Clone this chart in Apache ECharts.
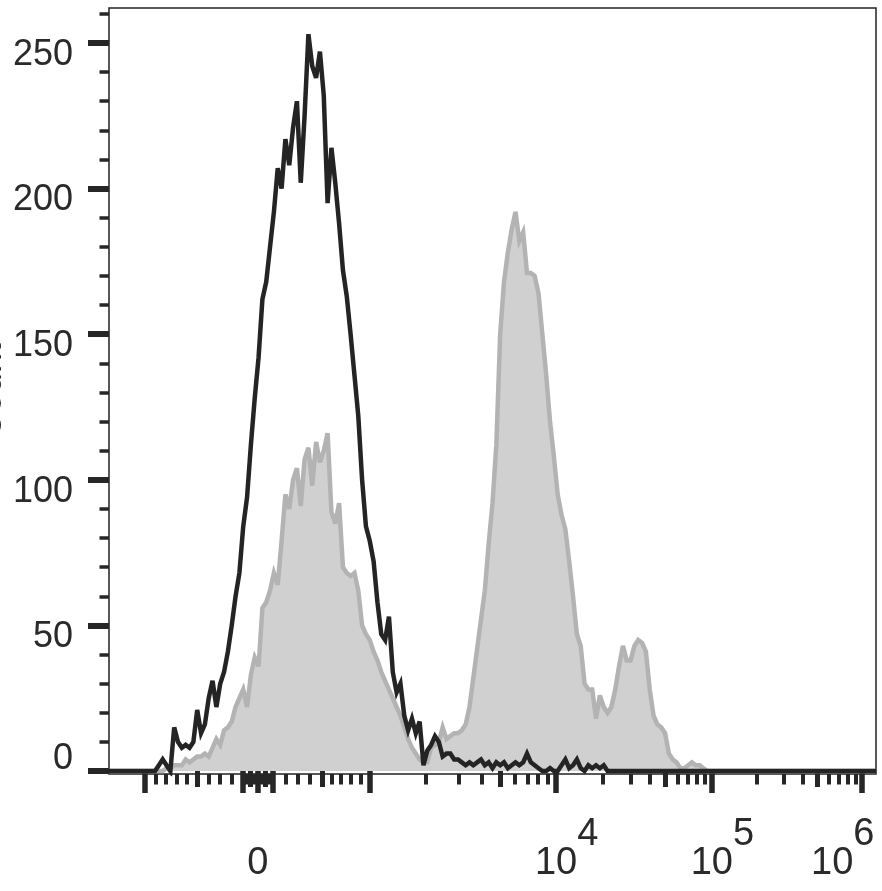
<!DOCTYPE html>
<html><head><meta charset="utf-8">
<script src="https://cdn.jsdelivr.net/npm/echarts@6/dist/echarts.min.js"></script>
<style>html,body{margin:0;padding:0;background:#fff}#c{width:882px;height:891px}</style>
</head><body><div id="c"></div>
<script>
// Histogram bins on a biexponential display scale of 0..1000 display channels
const channelStep = 5;

// Control (black line) counts per bin
const ctrlCounts = [
  0,0,0,0,0,0,0,0,0,0,0,0,0,
  2,4,2,0,15,10,8,9,
  8,10,21,13,16,25,31,22,30,34,
  41,50,60,68,84,94,112,128,142,162,
  168,180,192,207,200,217,208,221,230,202,
  225,253,242,238,247,232,195,214,202,188,
  172,163,150,136,122,100,84,79,72,58,
  47,45,53,34,27,30,19,14,18,13,
  17,2,7,9,12,10,5,6,6,4,
  4,3,2,3,2,3,4,2,3,1,
  3,2,3,1,2,3,2,3,6,3,
  2,1,0,0,1,0,0,2,4,1,
  2,4,1,0,2,1,2,1,2,0,
  0,0,0,0,0,0,0,0,0,0,0,0,0,0,0,0,0,0,0,0,
  0,0,0,0,0,0,0,0,0,0,0,0,0,0,0,0,0,0,0,0,
  0,0,0,0,0,0,0,0,0,0,0,0,0,0,0,0,0,0,0,0,
  0,0,0,0,0,0,0,0,0,0
];

// Stained sample (grey filled) counts per bin
const sampleCounts = [
  0,0,0,0,0,0,0,0,0,0,0,0,0,0,0,
  1,1,2,2,2,4,
  3,4,5,5,6,5,8,11,9,14,
  15,17,22,25,28,22,33,39,36,56,
  58,62,68,64,79,95,90,100,104,91,
  107,111,98,113,106,110,116,89,85,92,
  70,68,67,68,62,50,47,45,41,38,
  34,31,28,25,22,19,15,11,8,6,
  4,3,3,8,9,10,15,11,12,13,
  13,14,16,22,32,42,52,62,78,92,
  112,150,168,178,186,192,182,185,171,171,
  170,164,150,136,120,108,95,88,83,72,
  60,47,43,30,28,28,18,26,22,20,
  22,28,36,43,38,38,43,45,44,41,
  28,19,16,15,13,6,4,3,1,1,
  2,3,2,2,1,0,
  0,0,0,0,0,0,0,0,0,0,0,0,0,0,0,0,0,0,0,0,0,0,
  0,0,0,0,0,0,0,0,0,0,0,0,0,0,0,0,0,0,0,0,0,0
];

// Biexponential scale definition: fluorescence value -> display channel
const scaleAnchors = [[-1000,47],[-500,115],[-100,175],[0,194],[100,214],[500,278],[1000,340],[1e4,583],[1e5,786],[1e6,982]];

// X tick values (fluorescence units)
const xMajorValues = [-1000,-100,0,100,1000,1e4,1e5,1e6];
const xMediumValues = [-500,-50,50,500,5e3,5e4,5e5];
const xLinearMinorValues = [-900,-800,-700,-600,-400,-300,-200,-90,-80,-70,-60,-40,-30,-20,-10,
  10,20,30,40,60,70,80,90,200,300,400,600,700,800,900];
const xMinorMultipliers = [2,3,4,6,7,8,9];
const xMinorDecades = [1e3,1e4,1e5];
const xLabelValues = [0,1e4,1e5,1e6];
const xLabelExponents = [null,4,5,6];

// Y ticks
const yLabelValues = [50,100,150,200,250];
const yZeroLabel = [0];
const yMajorValues = [0,50,100,150,200,250];
const yMinorValues = [10,20,30,40,60,70,80,90,110,120,130,140,160,170,180,190,210,220,230,240,260];

function toChannel(v){
  const a = scaleAnchors;
  for (let i=0;i<a.length-1;i++){
    const v0=a[i][0], c0=a[i][1], v1=a[i+1][0], c1=a[i+1][1];
    if (v>=v0 && v<=v1){
      const t = v0>=1000 ? Math.log10(v/v0)/Math.log10(v1/v0) : (v-v0)/(v1-v0);
      return c0+(c1-c0)*t;
    }
  }
  return null;
}

const xMinorValues = xLinearMinorValues.slice();
xMinorDecades.forEach(d=>xMinorMultipliers.forEach(m=>xMinorValues.push(m*d)));

const toCh = arr => arr.map(toChannel).filter(c=>c!==null);
const ctrlData = ctrlCounts.map((y,i)=>[i*channelStep,y]);
const sampleData = sampleCounts.map((y,i)=>[i*channelStep,y]);

const txt = '#2a2a2a';
const font = 'Liberation Sans, Arial, sans-serif';
const tickColor = '#262626';

function xLabelFmt(val){
  for (let i=0;i<xLabelValues.length;i++){
    if (Math.abs(toChannel(xLabelValues[i])-val)<0.5){
      const e = xLabelExponents[i];
      if (e===null) return '{base|0}';
      if (i===xLabelValues.length-1) return '{base|10}{sup|'+e+'}{padR|}';
      return '{padL|}{base|10}{sup|'+e+'}';
    }
  }
  return '';
}

const baseX = {type:'value', min:0, max:1000, position:'bottom',
  axisLine:{show:false}, splitLine:{show:false}};

const chart = echarts.init(document.getElementById('c'), null, {renderer:'canvas'});
chart.setOption({
  animation:false,
  backgroundColor:'#fff',
  grid:{left:109, top:8, width:767, height:766, show:true, borderColor:'#222', borderWidth:1.5,
        backgroundColor:'transparent', containLabel:false, outerBoundsMode:'none'},
  xAxis:[
    Object.assign({}, baseX, {
      axisTick:{show:true, customValues:toCh(xMajorValues), length:22, lineStyle:{color:tickColor, width:5.5}},
      axisLabel:{show:true, customValues:toCh(xLabelValues), margin:42, formatter:xLabelFmt,
        color:txt, fontFamily:font,
        rich:{
          base:{fontSize:38, lineHeight:67, verticalAlign:'bottom', color:txt, fontFamily:font},
          sup:{fontSize:38, lineHeight:67, verticalAlign:'top', color:txt, fontFamily:font},
          padL:{width:21, lineHeight:67},
          padR:{width:39, lineHeight:67}
        }}
    }),
    Object.assign({}, baseX, {
      axisTick:{show:true, customValues:toCh(xMediumValues), length:16, lineStyle:{color:tickColor, width:5}},
      axisLabel:{show:false}
    }),
    Object.assign({}, baseX, {
      axisTick:{show:true, customValues:toCh(xMinorValues), length:10.5, lineStyle:{color:tickColor, width:4}},
      axisLabel:{show:false}
    })
  ],
  yAxis:[
    {type:'value', min:-1, max:262, position:'left', axisLine:{show:false}, splitLine:{show:false},
      name:'Count', nameLocation:'middle', nameGap:100, nameRotate:90, nameMoveOverlap:false,
      nameTextStyle:{fontSize:36, color:txt, fontFamily:font},
      axisTick:{show:true, customValues:yMajorValues, length:21, lineStyle:{color:tickColor, width:6}},
      axisLabel:{show:true, customValues:yLabelValues, margin:36, fontSize:36, color:txt, fontFamily:font,
        verticalAlign:'top', lineHeight:24}
    },
    {type:'value', min:-1, max:262, position:'left', axisLine:{show:false}, splitLine:{show:false},
      axisTick:{show:true, customValues:yMinorValues, length:9.5, lineStyle:{color:tickColor, width:3.5}},
      axisLabel:{show:true, customValues:yZeroLabel, margin:36, fontSize:36, color:txt, fontFamily:font,
        verticalAlign:'bottom', lineHeight:24}
    }
  ],
  series:[
    {type:'line', name:'Sample', data:sampleData, xAxisIndex:0, yAxisIndex:0, symbol:'none', showSymbol:false,
      lineStyle:{color:'#b3b3b3', width:4.5, join:'miter', miterLimit:4},
      areaStyle:{color:'#d0d0d0', opacity:1}, z:2, silent:true},
    {type:'line', name:'Control', data:ctrlData, xAxisIndex:0, yAxisIndex:0, symbol:'none', showSymbol:false,
      lineStyle:{color:'#242424', width:4.5, join:'miter', miterLimit:4}, z:3, silent:true}
  ]
});
</script>
</body></html>
